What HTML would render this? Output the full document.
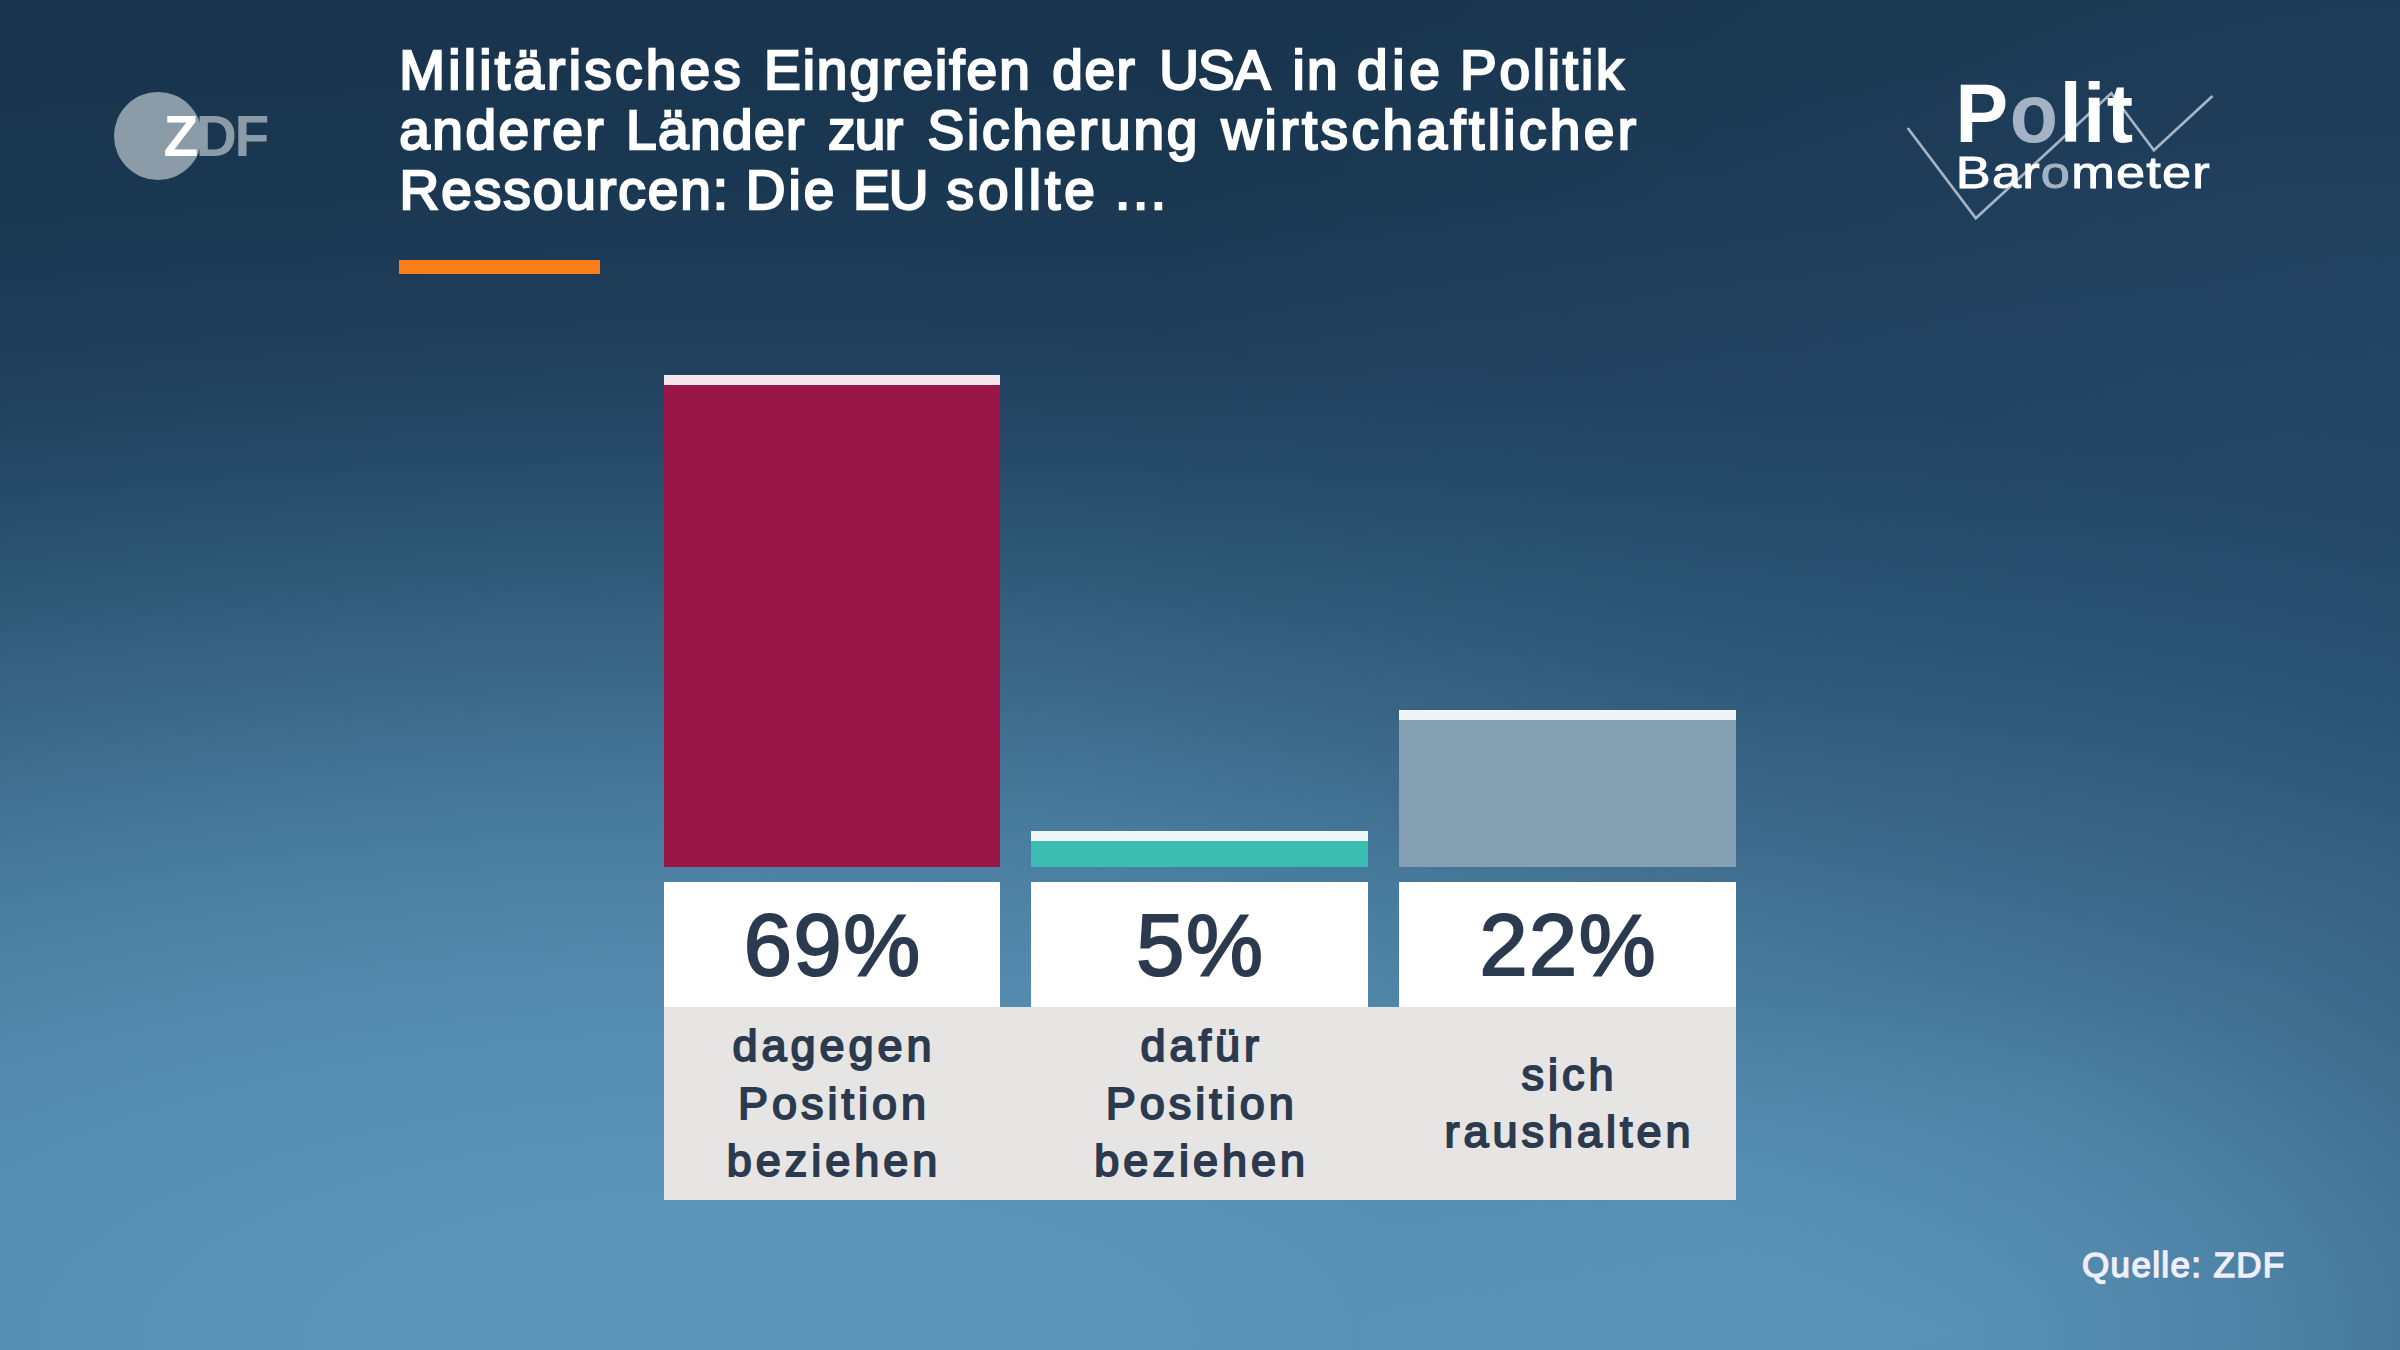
<!DOCTYPE html>
<html lang="de">
<head>
<meta charset="utf-8">
<title>ZDF Politbarometer</title>
<style>
  html, body { margin: 0; padding: 0; }
  body {
    width: 2400px; height: 1350px; overflow: hidden; position: relative;
    font-family: "Liberation Sans", sans-serif;
    background-color: #19344d;
    background-image:
      radial-gradient(ellipse 600px 350px at 1950px 1330px, rgba(120,185,230,0.22) 0%, rgba(120,185,230,0) 100%),
      radial-gradient(ellipse 700px 450px at 1750px 690px, rgba(20,50,80,0.13) 0%, rgba(20,50,80,0) 100%),
      radial-gradient(ellipse 1300px 700px at 2450px 330px, rgba(80,140,200,0.15) 0%, rgba(80,140,200,0) 100%),
      radial-gradient(ellipse 4060px 1400px at 750px 1340px,
      #5b95b8 0%, #5a94b7 9.9%, #548bae 25.6%, #487c9e 37.1%,
      #3a6686 48.5%, #284f6d 60.8%, #1f3e5b 72.1%, #1a3751 84.2%, #19344d 96.2%, #19344d 100%);
  }
  .abs { position: absolute; }

  /* ZDF logo */
  .zdf-dot { left: 113.5px; top: 91.5px; width: 88px; height: 88px; border-radius: 50%; background: #8c9ba8; }
  .zdf-txt { left: 163.5px; top: 105.5px; font-weight: bold; font-size: 57px; line-height: 60px; letter-spacing: -2.5px; white-space: nowrap; color: #8c9ba8; }
  .zdf-txt b { color: #ffffff; }

  /* title */
  .title { left: 399px; top: 39.6px; color: #ffffff; font-weight: normal; -webkit-text-stroke: 2.3px #ffffff; font-size: 55px; line-height: 60px; white-space: nowrap; }
  .title > span { display: block; word-spacing: 4px; }
  .rule { left: 398.7px; top: 260px; width: 201.3px; height: 14px; background: #fb7f19; }

  /* politbarometer logo */
  .pb { left: 1880px; top: 60px; width: 380px; height: 180px; }

  /* chart */
  .bar { width: 336.4px; }
  .cap { width: 336.4px; height: 10px; }
  .val { width: 336.4px; top: 882px; height: 125px; background: #ffffff; color: #2c3a4f; text-align: center;
         font-size: 86.5px; line-height: 126px; font-weight: normal; letter-spacing: 1.6px; padding-left: 1.6px; box-sizing: border-box; -webkit-text-stroke: 2.1px #2c3a4f; }
  .panel { left: 663.8px; top: 1007px; width: 1072.4px; height: 193px; background: #e6e5e3; }
  .lab { width: 336.4px; color: #2c3a4f; text-align: center; font-weight: normal; -webkit-text-stroke: 1.9px #2c3a4f; font-size: 45px; line-height: 57.7px; letter-spacing: 4px; padding-left: 4px; box-sizing: border-box; }

  .src { left: 2082px; top: 1244.5px; color: #f0eefb; font-weight: normal; -webkit-text-stroke: 1.45px #f0eefb; font-size: 35px; line-height: 40px; letter-spacing: 1.35px; white-space: nowrap; }
</style>
</head>
<body>

<div class="abs zdf-dot"></div>
<div class="abs zdf-txt"><b>Z</b>DF</div>

<div class="abs title">
  <span class="l1"><span style="letter-spacing:3.26px;margin-left:0.18px">Militärisches</span> <span style="letter-spacing:2.02px;margin-left:0.54px">Eingreifen</span> <span style="letter-spacing:1.46px;margin-left:1.26px">der</span> <span style="letter-spacing:-0.90px;margin-left:3.78px">USA</span> <span style="letter-spacing:2.36px;margin-left:3.60px">in</span> <span style="letter-spacing:4.70px;margin-left:-2.34px">die</span> <span style="letter-spacing:2.78px;margin-left:-3.78px">Politik</span></span>
  <span class="l2"><span style="letter-spacing:2.42px;margin-left:0.36px">anderer</span> <span style="letter-spacing:1.42px;margin-left:0.72px">Länder</span> <span style="letter-spacing:-0.61px;margin-left:3.06px">zur</span> <span style="letter-spacing:2.79px;margin-left:5.58px">Sicherung</span> <span style="letter-spacing:3.40px;margin-left:1.98px">wirtschaftlicher</span></span>
  <span class="l3"><span style="letter-spacing:1.98px;margin-left:0.54px">Ressourcen:</span> <span style="letter-spacing:2.99px;margin-left:-3.60px">Die</span> <span style="letter-spacing:-0.90px;margin-left:-3.60px">EU</span> <span style="letter-spacing:3.98px;margin-left:-0.36px">sollte</span> <span style="letter-spacing:2.63px;margin-left:-3.06px">...</span></span>
</div>
<div class="abs rule"></div>

<svg class="abs pb" viewBox="0 0 380 180">
  <polyline points="27.7,68 95.8,158.3 231.3,33.2 273.9,90.2 332.5,36.1" fill="none" stroke="#a7b4c4" stroke-width="2.7" stroke-linejoin="miter"/>
  <text transform="translate(75.6,82.3) scale(0.94,1)" x="0" y="0" font-family="Liberation Sans, sans-serif" font-weight="bold" font-size="84" letter-spacing="1.7" fill="#ffffff">P<tspan fill="#a3b3c5">o</tspan>lit</text>
  <text transform="translate(75.8,128) scale(1.19,1)" x="0" y="0" font-family="Liberation Sans, sans-serif" font-size="44" letter-spacing="1" fill="#ffffff" stroke="#ffffff" stroke-width="0.9">Bar<tspan fill="#a3b3c5" stroke="#a3b3c5">o</tspan>meter</text>
</svg>

<!-- bars -->
<div class="abs cap" style="left:663.8px; top:375px; background:#f4e6eb;"></div>
<div class="abs bar" style="left:663.8px; top:385px; height:482px; background:#9a1647;"></div>

<div class="abs cap" style="left:1030.9px; width:337.6px; top:831px; background:#eef8f6;"></div>
<div class="abs bar" style="left:1030.9px; width:337.6px; top:841px; height:26px; background:#3cbdb2;"></div>

<div class="abs cap" style="left:1399.4px; top:710px; background:#f1f4f5;"></div>
<div class="abs bar" style="left:1399.4px; top:720px; height:147px; background:#84a0b2;"></div>

<!-- values -->
<div class="abs val" style="left:663.8px;">69%</div>
<div class="abs val" style="left:1030.9px; width:337.6px;">5%</div>
<div class="abs val" style="left:1399.4px;">22%</div>

<!-- labels -->
<div class="abs panel"></div>
<div class="abs lab" style="left:663.8px; top:1017px;">dagegen<br>Position<br>beziehen</div>
<div class="abs lab" style="left:1030.9px; width:337.6px; top:1017px;">dafür<br>Position<br>beziehen</div>
<div class="abs lab" style="left:1399.4px; top:1045.5px;">sich<br>raushalten</div>

<div class="abs src">Quelle: ZDF</div>

</body>
</html>
